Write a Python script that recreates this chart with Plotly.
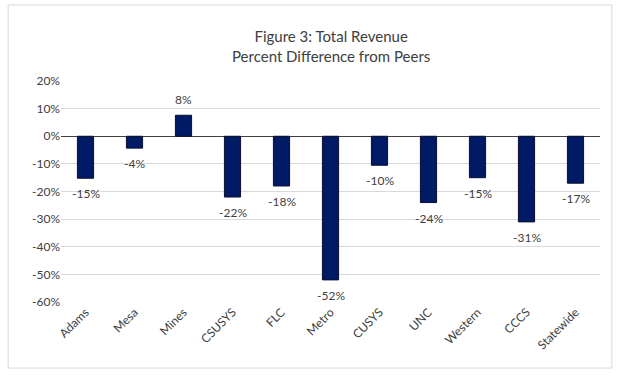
import plotly.graph_objects as go

categories = ["Adams", "Mesa", "Mines", "CSUSYS", "FLC", "Metro", "CUSYS", "UNC", "Western", "CCCS", "Statewide"]
values = [-15.2, -4.3, 7.6, -22.0, -18.0, -52.0, -10.5, -24.0, -15.0, -31.0, -17.0]
labels = ["-15%", "-4%", "8%", "-22%", "-18%", "-52%", "-10%", "-24%", "-15%", "-31%", "-17%"]
tick_vals = [20, 10, 0, -10, -20, -30, -40, -50, -60]
tick_text = ["20%", "10%", "0%", "-10%", "-20%", "-30%", "-40%", "-50%", "-60%"]

font_family = "Lato, Open Sans, sans-serif"
text_color = "#404040"

fig = go.Figure(go.Bar(
    x=categories, y=values,
    marker=dict(color="#001a66", line=dict(color="#0a0f2e", width=1)),
    width=0.33,
))

annotations = []
for c, v, t in zip(categories, values, labels):
    annotations.append(dict(x=c, y=v, xref="x", yref="y", text=t, showarrow=False,
                            yanchor="bottom" if v >= 0 else "top",
                            yshift=6 if v >= 0 else -6,
                            font=dict(family=font_family, size=12, color=text_color)))
annotations.append(dict(x=0.5, y=1.158, xref="paper", yref="paper", xanchor="center", yanchor="middle",
                        text="Figure 3: Total Revenue<br>Percent Difference from Peers", showarrow=False,
                        font=dict(family=font_family, size=15, color=text_color)))

fig.update_layout(
    width=621, height=376,
    margin=dict(l=61, r=21, t=81, b=74),
    paper_bgcolor="white", plot_bgcolor="white",
    showlegend=False,
    font=dict(family=font_family, color=text_color),
    annotations=annotations,
    shapes=[dict(type="rect", xref="paper", yref="paper", x0=-0.098, x1=1.022, y0=-0.299, y1=1.344,
                 line=dict(color="#d9d9d9", width=1))],
)
fig.update_yaxes(range=[-60, 20], tickvals=tick_vals, ticktext=tick_text,
                 showgrid=True, gridcolor="#d9d9d9", gridwidth=1,
                 zeroline=True, zerolinecolor="#404040", zerolinewidth=1,
                 tickfont=dict(size=12, color=text_color), ticks="")
fig.update_xaxes(tickangle=-45, tickfont=dict(size=12, color=text_color), showline=False, ticks="")

fig.write_html("out.html")
